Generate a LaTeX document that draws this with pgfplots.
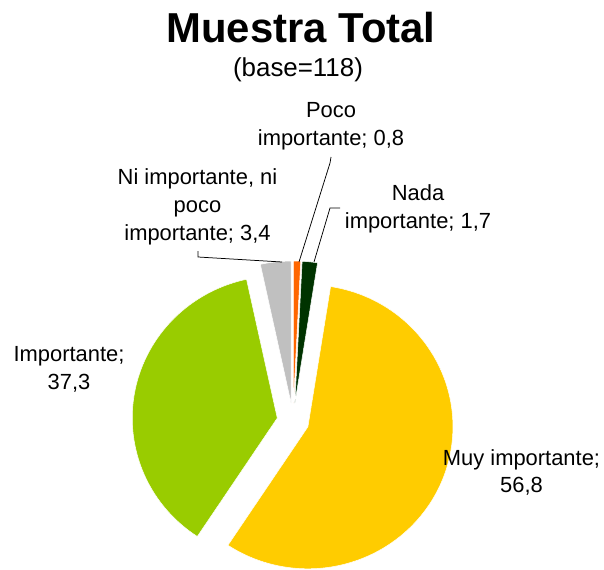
\documentclass[border=0pt]{standalone}
\usepackage{pgfplots}
\pgfplotsset{compat=1.18}
\usepackage{pgfplotstable}
\usepackage{fontspec}
\setmainfont{Liberation Sans}
\definecolor{pc0}{HTML}{FF6600}
\definecolor{pc1}{HTML}{003300}
\definecolor{pc2}{HTML}{FFCC00}
\definecolor{pc3}{HTML}{99CC00}
\definecolor{pc4}{HTML}{C0C0C0}
% slices clockwise from 12 o'clock
\pgfplotstableread{
name value explode
Poco 0.8 18
Nada 1.7 18
Muy 56.8 16
Imp 37.3 16
Ni 3.4 18
}\piedata
\newcommand\lbl{\fontsize{22}{28}\selectfont}
\begin{document}
\begin{tikzpicture}
\gdef\cum{0}
\foreach \i in {0,...,4}{
  \pgfplotstablegetelem{\i}{value}\of\piedata \let\v\pgfplotsretval
  \pgfplotstablegetelem{\i}{explode}\of\piedata \let\ex\pgfplotsretval
  \pgfmathsetmacro\s{90-3.6*\cum}
  \pgfmathsetmacro\e{\s-3.6*\v}
  \pgfmathsetmacro\m{(\s+\e)/2}
  \pgfmathsetmacro\newcum{\cum+\v}
  \global\let\cum\newcum
  \expandafter\xdef\csname ps\i\endcsname{\s}
  \expandafter\xdef\csname pe\i\endcsname{\e}
  \expandafter\xdef\csname pm\i\endcsname{\m}
  \expandafter\xdef\csname px\i\endcsname{\ex}
}
\begin{axis}[x=1bp, y=1bp, xmin=0, xmax=604, ymin=0, ymax=570,
  y dir=reverse, hide axis, clip=false]
\pgfplotsinvokeforeach{0,...,4}{
  \fill[pc#1, draw=white, line width=0.5bp,
    shift={(axis cs:293,421)},
    shift={(\csname pm#1\endcsname:\csname px#1\endcsname bp)}]
   (0bp,0bp) -- (\csname ps#1\endcsname:145bp and 142bp)
   arc[start angle=\csname ps#1\endcsname, end angle=\csname pe#1\endcsname,
       x radius=145bp, y radius=142bp] -- cycle;
}
% leader lines
\draw[black, line width=0.75bp] (axis cs:331,157) -- (axis cs:330,163) -- (axis cs:299,262);
\draw[black, line width=0.75bp] (axis cs:340,208) -- (axis cs:330,208) -- (axis cs:314,262);
\draw[black, line width=0.75bp] (axis cs:198,251) -- (axis cs:198,257) -- (axis cs:282,262);
% title
\node[anchor=base, inner sep=0pt, font=\fontsize{42}{50}\selectfont\bfseries] at (axis cs:301,43) {Muestra Total};
\node[anchor=base, inner sep=0pt, font=\fontsize{26}{30}\selectfont] at (axis cs:298,77) {(base=118)};
% labels
\node[anchor=base, inner sep=0pt, font=\lbl] at (axis cs:331,118) {Poco};
\node[anchor=base, inner sep=0pt, font=\lbl] at (axis cs:331,146) {importante; 0,8};
\node[anchor=base, inner sep=0pt, font=\lbl] at (axis cs:418,200.5) {Nada};
\node[anchor=base, inner sep=0pt, font=\lbl] at (axis cs:418,228.5) {importante; 1,7};
\node[anchor=base, inner sep=0pt, font=\lbl] at (axis cs:197.5,184) {Ni importante, ni};
\node[anchor=base, inner sep=0pt, font=\lbl] at (axis cs:197.5,212) {poco};
\node[anchor=base, inner sep=0pt, font=\lbl] at (axis cs:197.5,240) {importante; 3,4};
\node[anchor=base, inner sep=0pt, font=\lbl] at (axis cs:69,361.5) {Importante;};
\node[anchor=base, inner sep=0pt, font=\lbl] at (axis cs:69,389.5) {37,3};
\node[anchor=base, inner sep=0pt, font=\lbl] at (axis cs:521.5,465) {Muy importante;};
\node[anchor=base, inner sep=0pt, font=\lbl] at (axis cs:521.5,492.5) {56,8};
\end{axis}
\pgfresetboundingbox
\path (current axis.south west) rectangle (current axis.north east);
\end{tikzpicture}
\end{document}
